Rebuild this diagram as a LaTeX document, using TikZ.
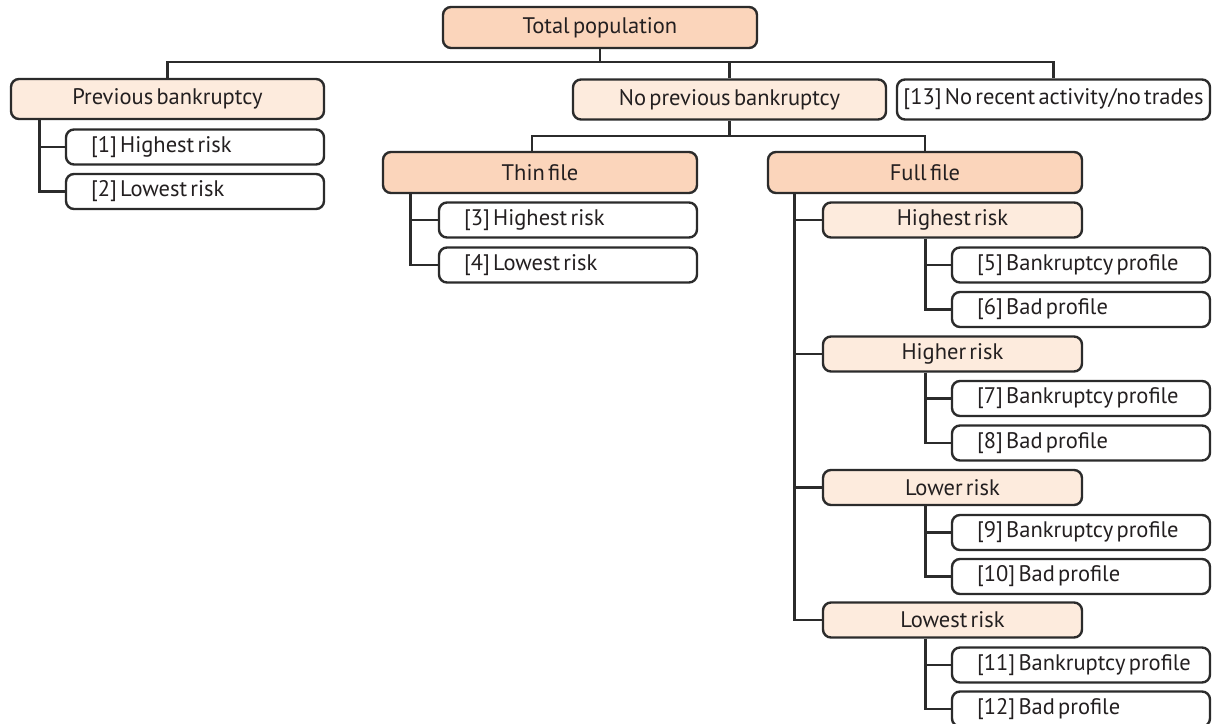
\documentclass[tikz,border=0pt]{standalone}
\usepackage{fontspec}
\setmainfont[WordSpace=0.55]{PT Sans}
\newcommand{\leaftext}[1]{\makebox[258pt][l]{\hspace*{25pt}#1}}
\begin{document}
\begin{tikzpicture}[x=1pt,y=-1pt,
  base/.style={draw=linec, line width=2.4pt, rounded corners=8pt, inner sep=0pt,
    text=textc, font=\fontsize{22.5}{24}\selectfont},
  topbox/.style={base, fill=peachdark, minimum width=314pt, minimum height=41pt},
  midbox/.style={base, fill=peachlight, minimum width=313pt, minimum height=40pt},
  riskbox/.style={base, fill=peachlight, minimum width=259pt, minimum height=35pt},
  leafbox/.style={base, fill=white, minimum width=258pt, minimum height=35pt},
  wide/.style={base, fill=white, minimum width=313pt, minimum height=40pt},
  conn/.style={draw=linec, line width=2.8pt}]
\definecolor{linec}{HTML}{2B2B2B}
\definecolor{textc}{HTML}{231F20}
\definecolor{peachdark}{HTML}{FBD5BB}
\definecolor{peachlight}{HTML}{FDEBDD}
\useasboundingbox (0,0) rectangle (1212,723);

\coordinate (bus) at (0,62);
\coordinate (bus2) at (0,136);

\node[topbox] (tp) at (600,27.5) {Total population};
\node[midbox] (pb) at (167.5,99) {Previous bankruptcy};
\node[midbox] (npb) at (729.5,99.5) {No previous bankruptcy};
\node[wide] (t13) at (1053.5,99.5) {[13] No recent activity/no trades};

\node[leafbox] (l1) at (195,147) {\leaftext{[1] Highest risk}};
\node[leafbox] (l2) at (195,191.5) {\leaftext{[2] Lowest risk}};

\node[topbox] (tf) at (540,172.5) {Thin file};
\node[topbox] (ff) at (925,172.5) {Full file};

\node[leafbox] (l3) at (568,220) {\leaftext{[3] Highest risk}};
\node[leafbox] (l4) at (568,265) {\leaftext{[4] Lowest risk}};

\node[riskbox] (r1) at (952.5,220) {Highest risk};
\node[leafbox] (l5) at (1081,265) {\leaftext{[5] Bankruptcy profile}};
\node[leafbox] (l6) at (1081,309.5) {\leaftext{[6] Bad profile}};
\node[riskbox] (r2) at (952.5,354) {Higher risk};
\node[leafbox] (l7) at (1081,398.5) {\leaftext{[7] Bankruptcy profile}};
\node[leafbox] (l8) at (1081,443) {\leaftext{[8] Bad profile}};
\node[riskbox] (r3) at (952.5,487.5) {Lower risk};
\node[leafbox] (l9) at (1081,532.5) {\leaftext{[9] Bankruptcy profile}};
\node[leafbox] (l10) at (1081,576.5) {\leaftext{[10] Bad profile}};
\node[riskbox] (r4) at (952.5,620) {Lowest risk};
\node[leafbox] (l11) at (1081,665) {\leaftext{[11] Bankruptcy profile}};
\node[leafbox] (l12) at (1081,709) {\leaftext{[12] Bad profile}};

% top bus
\draw[conn] (tp.south) -- (tp.south |- bus);
\draw[conn] (pb.north) |- (t13.north |- bus) -- (t13.north);
\draw[conn] (npb.north) -- (npb.north |- bus);

% previous bankruptcy children
\draw[conn] ([xshift=30pt]pb.south west) |- (l1.west);
\draw[conn] ([xshift=30pt]pb.south west) |- (l2.west);

% no previous bankruptcy children
\draw[conn] (npb.south) -- (npb.south |- bus2);
\draw[conn] ([xshift=-8pt]tf.north) |- (ff.north |- bus2) -- (ff.north);

% thin file children
\draw[conn] ([xshift=29pt]tf.south west) |- (l3.west);
\draw[conn] ([xshift=29pt]tf.south west) |- (l4.west);

% full file children
\draw[conn] ([xshift=28pt]ff.south west) |- (r1.west);
\draw[conn] ([xshift=28pt]ff.south west) |- (r2.west);
\draw[conn] ([xshift=28pt]ff.south west) |- (r3.west);
\draw[conn] ([xshift=28pt]ff.south west) |- (r4.west);

% risk children
\foreach \r/\a/\b in {r1/l5/l6, r2/l7/l8, r3/l9/l10, r4/l11/l12}{
  \draw[conn] ([xshift=104pt]\r.south west) |- (\a.west);
  \draw[conn] ([xshift=104pt]\r.south west) |- (\b.west);
}
\end{tikzpicture}
\end{document}
